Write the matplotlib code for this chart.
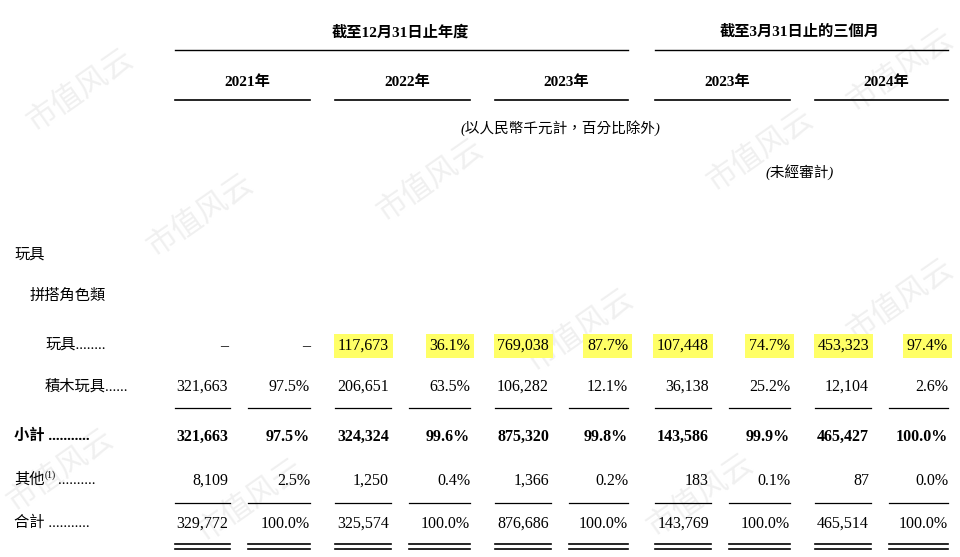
import matplotlib.pyplot as plt

FAM = ['Liberation Serif', 'Noto Sans CJK TC']

periods = ['2021年', '2022年', '2023年', '2023年', '2024年']
group_titles = ['截至12月31日止年度', '截至3月31日止的三個月']

row_labels = ['玩具........', '積木玩具......', '小計 ...........', '其他', '合計 ...........']
amounts = [
    [None, '117,673', '769,038', '107,448', '453,323'],
    ['321,663', '206,651', '106,282', '36,138', '12,104'],
    ['321,663', '324,324', '875,320', '143,586', '465,427'],
    ['8,109', '1,250', '1,366', '183', '87'],
    ['329,772', '325,574', '876,686', '143,769', '465,514'],
]
pcts = [
    [None, '36.1%', '87.7%', '74.7%', '97.4%'],
    ['97.5%', '63.5%', '12.1%', '25.2%', '2.6%'],
    ['97.5%', '99.6%', '99.8%', '99.9%', '100.0%'],
    ['2.5%', '0.4%', '0.2%', '0.1%', '0.0%'],
    ['100.0%', '100.0%', '100.0%', '100.0%', '100.0%'],
]
highlight_row = 0

fig = plt.figure(figsize=(9.6, 5.57), dpi=100)
ax = fig.add_axes([0, 0, 1, 1])
ax.set_xlim(0, 960)
ax.set_ylim(557, 0)
ax.axis('off')

# watermark
for wx, wy in [(80, 90), (200, 215), (430, 180), (580, 330), (760, 150), (900, 70),
               (60, 470), (250, 500), (700, 495), (900, 300)]:
    ax.text(wx, wy, '市值风云', fontsize=22, color='#f0f0f0', rotation=35,
            ha='center', va='center', family='Noto Sans CJK SC', zorder=0)

col_left = [175, 335, 495, 655, 815]
col_right = [310, 470, 628, 790, 948]
amt_right = [228, 389, 549, 709, 869]

# headers
ax.text(400, 32, group_titles[0], ha='center', va='center', fontsize=11, weight='bold', family=FAM)
ax.text(800, 32, group_titles[1], ha='center', va='center', fontsize=11, weight='bold', family=FAM)
ax.plot([175, 628], [50, 50], color='black', lw=1)
ax.plot([655, 948], [50, 50], color='black', lw=1)
for i, p in enumerate(periods):
    cx = (col_left[i] + col_right[i]) / 2 + 5
    ax.text(cx, 82, p, ha='center', va='center', fontsize=11, weight='bold', family=FAM)
    ax.plot([col_left[i], col_right[i]], [100, 100], color='black', lw=1.2)
ax.text(560, 128, '(以人民幣千元計，百分比除外)', ha='center', va='center', fontsize=10.5,
        style='italic', family=FAM)
ax.text(800, 172, '(未經審計)', ha='center', va='center', fontsize=10.5, style='italic', family=FAM)

ax.text(14, 255, '玩具', va='center', fontsize=11, family=FAM)
ax.text(30, 296, '拼搭角色類', va='center', fontsize=11, family=FAM)

row_y = [345, 386, 436, 480, 523]
row_x = [45, 45, 14, 14, 14]
bold_rows = [2]
for r, y in enumerate(row_y):
    w = 'bold' if r in bold_rows else 'normal'
    ax.text(row_x[r], y, row_labels[r], va='center', fontsize=11, weight=w, family=FAM)
    if r == 3:
        ax.text(45, y - 5, '(1)', va='center', fontsize=7, family=FAM)
        ax.text(58, y, '..........', va='center', fontsize=11, family=FAM)
    for i in range(5):
        a, p = amounts[r][i], pcts[r][i]
        if a is None:
            a, p = '–', '–'
        hl = r == highlight_row and amounts[r][i] is not None
        for txt, xr in [(a, amt_right[i]), (p, col_right[i])]:
            t = ax.text(xr, y + 5, txt, ha='right', va='baseline', fontsize=11.5, weight=w,
                        family='Liberation Serif')
            if hl:
                t.set_bbox(dict(facecolor='#ffff66', edgecolor='none', pad=2.5))

# rules under rows
for i in range(5):
    for x0, x1 in [(col_left[i], amt_right[i] + 2), (amt_right[i] + 20, col_right[i])]:
        ax.plot([x0, x1], [408, 408], color='black', lw=0.9)
        ax.plot([x0, x1], [503, 503], color='black', lw=0.9)
        ax.plot([x0, x1], [544, 544], color='black', lw=1.2)
        ax.plot([x0, x1], [549, 549], color='black', lw=1.2)

fig.savefig('out.png', dpi=100)
